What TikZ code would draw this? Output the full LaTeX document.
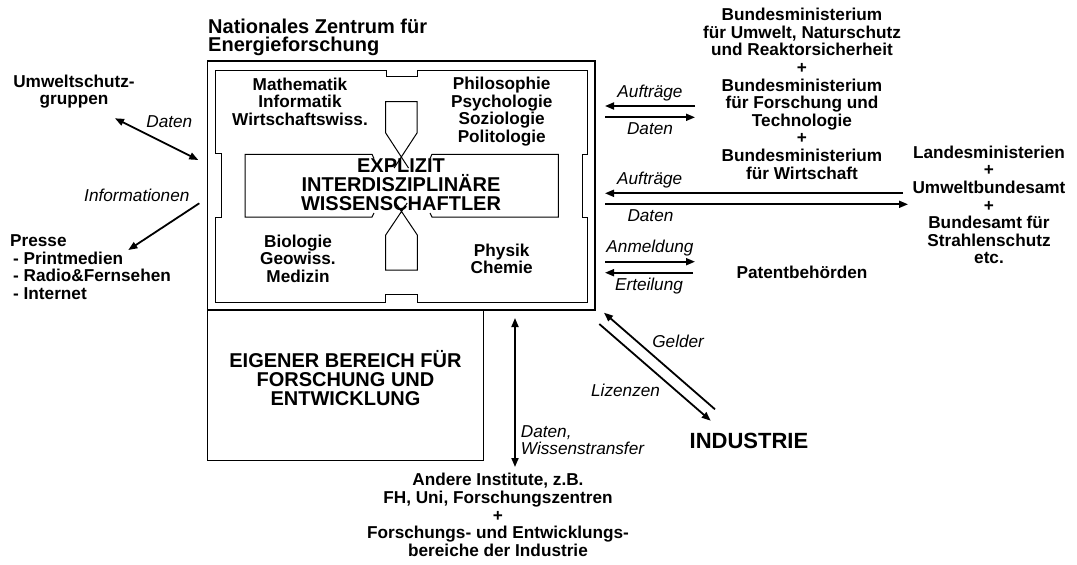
\documentclass[tikz,border=0pt]{standalone}
\usepackage{fontspec}
\setmainfont{Liberation Sans}
\usetikzlibrary{arrows.meta}

\begin{document}
\begin{tikzpicture}[x=1pt, y=-1pt, >={Triangle[length=9pt,width=7pt]},
    every node/.style={inner sep=0pt, align=center, font=\bfseries\fontsize{17.2}{17.6}\selectfont},
    big/.style={font=\bfseries\fontsize{20}{19.2}\selectfont},
    lbl/.style={font=\itshape\fontsize{17.2}{17.6}\selectfont, inner sep=4.5pt},
    arr/.style={line width=1.8pt, ->},
    arrboth/.style={line width=1.8pt, <->},
    box/.style={line width=1.3pt},
    frame/.style={line width=1pt}]
    \useasboundingbox (0,0) rectangle (1077,565);

    \node[anchor=west, align=left, font=\bfseries\fontsize{20}{18.6}\selectfont] (title) at (208,37.3) {Nationales Zentrum für\\Energieforschung};
    \node (bmin) at (802,93.7) {Bundesministerium\\für Umwelt, Naturschutz\\und Reaktorsicherheit\\+\\Bundesministerium\\für Forschung und\\Technologie\\+\\Bundesministerium\\für Wirtschaft};
    \node (land) at (989,205) {Landesministerien\\+\\Umweltbundesamt\\+\\Bundesamt für\\Strahlenschutz\\etc.};
    \node[anchor=base] (patent) at (802,278) {Patentbehörden};
    \node (umwelt) at (74,91.5) {Umweltschutz-\\gruppen};
    \node[anchor=west, align=left] (presse) at (10,267) {Presse\\\hspace*{3pt}- Printmedien\\\hspace*{3pt}- Radio\&Fernsehen\\\hspace*{3pt}- Internet};
    \node (mathe) at (300,101.7) {Mathematik\\Informatik\\Wirtschaftswiss.};
    \node (philo) at (501.7,111.5) {Philosophie\\Psychologie\\Soziologie\\Politologie};
    \node (bio) at (298,258.7) {Biologie\\Geowiss.\\Medizin};
    \node (phys) at (501.7,259) {Physik\\Chemie};
    \node[big] (expl) at (401,184.7) {EXPLIZIT\\INTERDISZIPLINÄRE\\WISSENSCHAFTLER};
    \node[font=\bfseries\fontsize{20}{19}\selectfont] (eigen) at (345.5,378.5) {EIGENER BEREICH FÜR\\FORSCHUNG UND\\ENTWICKLUNG};
    \node (andere) at (498,515) {Andere Institute, z.B.\\FH, Uni, Forschungszentren\\+\\Forschungs- und Entwicklungs-\\bereiche der Industrie};
    \node[anchor=base, font=\bfseries\fontsize{22}{24}\selectfont] (ind) at (749,448) {INDUSTRIE};

    \draw[box] (207.7,61) rectangle (595,310);
    \draw[box] (207.7,310) rectangle (483.3,460.7);
    \draw[frame] (215.7,70) -- (386,70) -- (386,76.7) -- (417,76.7) -- (417,70) -- (587.7,70)
        -- (587.7,154) -- (582.3,154) -- (582.3,217.3) -- (587.7,217.3) -- (587.7,302.3)
        -- (417.3,302.3) -- (417.3,294.3) -- (385.7,294.3) -- (385.7,302.3) -- (215.7,302.3)
        -- (215.7,217.3) -- (221,217.3) -- (221,153.3) -- (215.7,153.3) -- cycle;
    \draw[frame] (374,158.5) -- (372,154.3) -- (245,154.3) -- (245,217) -- (372,217) -- (374,213);
    \draw[frame] (430,158.5) -- (432,154.3) -- (558.3,154.3) -- (558.3,217) -- (432,217) -- (430,213);
    \draw[frame] (408.5,168) -- (385.7,133) -- (385.7,101.7) -- (417,101.7) -- (417,133) -- (394.1,168);
    \draw[frame] (407.2,203) -- (385.7,235) -- (385.7,270) -- (417.3,270) -- (417.3,235) -- (395.8,203);

    \coordinate (auf1s) at (695,106);
    \coordinate (auf1e) at (605,106);
    \coordinate (dat1s) at (605,117.3);
    \coordinate (dat1e) at (695,117.3);
    \coordinate (auf2s) at (903,193.3);
    \coordinate (auf2e) at (605,193.3);
    \coordinate (dat2s) at (605,204.3);
    \coordinate (dat2e) at (908,204.3);
    \coordinate (anms) at (605,261.7);
    \coordinate (anme) at (695,261.7);
    \coordinate (erts) at (693,272.7);
    \coordinate (erte) at (605,272.7);
    \coordinate (gels) at (715,409.3);
    \coordinate (gele) at (604,312.7);
    \coordinate (lizs) at (599.3,324);
    \coordinate (lize) at (710.7,420.7);
    \coordinate (wiss) at (515,318);
    \coordinate (wise) at (515,467);
    \coordinate (umws) at (115,118.3);
    \coordinate (umwe) at (198.3,160);
    \coordinate (infs) at (199.3,203.3);
    \coordinate (infe) at (128.3,250);

    \draw[arr] (auf1s) -- (auf1e) node[lbl, midway, above] {Aufträge};
    \draw[arr] (dat1s) -- (dat1e) node[lbl, midway, below] {Daten};
    \draw[arr] (auf2s) -- (auf2e) node[lbl, pos=0.85, above] {Aufträge};
    \draw[arr] (dat2s) -- (dat2e) node[lbl, pos=0.15, below] {Daten};
    \draw[arr] (anms) -- (anme) node[lbl, midway, above] {Anmeldung};
    \draw[arr] (erts) -- (erte) node[lbl, midway, below] {Erteilung};
    \draw[arr] (gels) -- (gele) node[lbl, pos=0.6, anchor=south west, inner sep=3pt] {Gelder};
    \draw[arr] (lizs) -- (lize) node[lbl, pos=0.58, anchor=north east, inner sep=3pt] {Lizenzen};
    \draw[arrboth] (wiss) -- (wise) node[lbl, pos=0.82, anchor=west, inner sep=5pt, align=left] {Daten,\\Wissenstransfer};
    \draw[arrboth] (umws) -- (umwe) node[lbl, pos=0.33, anchor=south west, inner sep=3pt] {Daten};
    \draw[arr] (infs) -- (infe) node[lbl, pos=0, anchor=south east, inner sep=1pt, xshift=-8pt] {Informationen};
\end{tikzpicture}
\end{document}
